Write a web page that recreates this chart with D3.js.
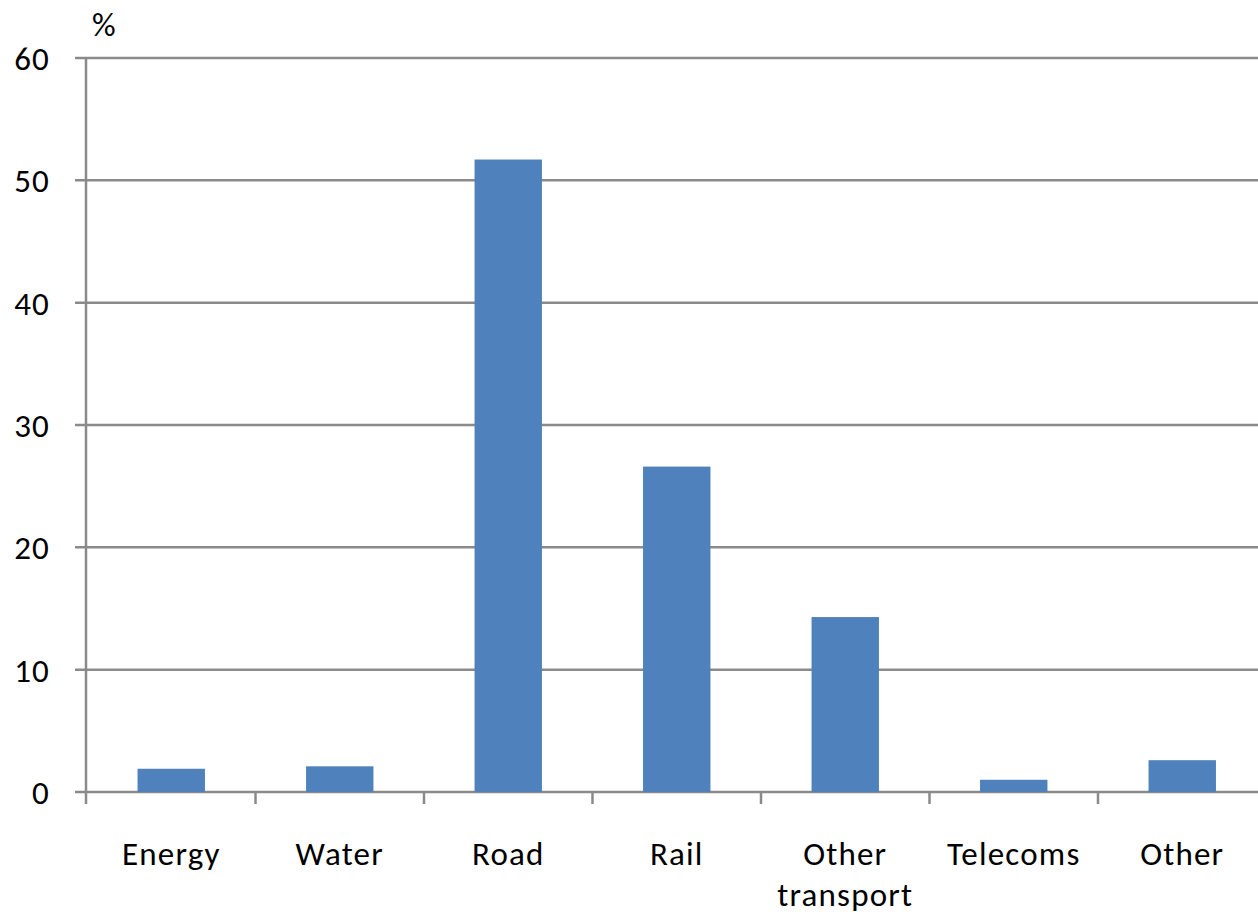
<!DOCTYPE html>
<html>
<head>
<meta charset="utf-8">
<script src="https://cdn.jsdelivr.net/npm/d3@7"></script>
<style>
  body { margin: 0; background: #fff; }
  text { font-family: Carlito, Lato, "Open Sans", sans-serif; fill: #000; letter-spacing: 1.2px; }
</style>
</head>
<body>
<script>
// share of infrastructure spending by sector
var categories = ["Energy", "Water", "Road", "Rail", "Other transport", "Telecoms", "Other"];
var values = [1.9, 2.1, 51.7, 26.6, 14.3, 1.0, 2.6];
var yTicks = [0, 10, 20, 30, 40, 50, 60];

var W = 1258, H = 917;
var margin = { top: 58, left: 87, bottom: 125 };
var plotRight = 1266.5; // plot runs slightly past the window edge

var svg = d3.select("body").append("svg")
    .attr("width", W)
    .attr("height", H);

var x = d3.scaleBand()
    .domain(categories)
    .range([margin.left, plotRight])
    .padding(0);

var y = d3.scaleLinear()
    .domain([0, 60])
    .range([H - margin.bottom, margin.top]);

var grey = "#8a8a8a";
var fs = "33px";

// horizontal gridlines (incl. tick stubs left of the axis)
svg.append("g").selectAll("line")
    .data(yTicks)
    .enter()
    .append("line")
    .attr("x1", margin.left - 12)
    .attr("x2", W)
    .attr("y1", function(d) { return y(d); })
    .attr("y2", function(d) { return y(d); })
    .style("stroke", grey)
    .style("stroke-width", 2.5);

// y tick labels
svg.append("g").selectAll("text")
    .data(yTicks)
    .enter()
    .append("text")
    .attr("x", 50)
    .attr("y", function(d) { return y(d); })
    .attr("dy", "0.36em")
    .attr("text-anchor", "end")
    .style("font-size", fs)
    .text(function(d) { return d; });

svg.append("text")
    .attr("x", 92)
    .attr("y", 36)
    .style("font-size", fs)
    .text("%");

// bars
svg.append("g").selectAll("rect")
    .data(values)
    .enter()
    .append("rect")
    .attr("x", function(d, i) { return x(categories[i]) + x.bandwidth() * 0.3; })
    .attr("width", x.bandwidth() * 0.4)
    .attr("y", function(d) { return y(d); })
    .attr("height", function(d) { return y(0) - y(d); })
    .style("fill", "#4f81bd");

// y axis line
svg.append("line")
    .attr("x1", margin.left - 1)
    .attr("x2", margin.left - 1)
    .attr("y1", y(60))
    .attr("y2", y(0) + 12)
    .style("stroke", grey)
    .style("stroke-width", 2.5);

// category boundary ticks
svg.append("g").selectAll("line")
    .data(categories.slice(1))
    .enter()
    .append("line")
    .attr("x1", function(d) { return x(d); })
    .attr("x2", function(d) { return x(d); })
    .attr("y1", y(0))
    .attr("y2", y(0) + 12)
    .style("stroke", grey)
    .style("stroke-width", 2.5);

// category labels, wrapped on two lines where needed
var lab = svg.append("g").selectAll("text")
    .data(categories)
    .enter()
    .append("text")
    .attr("text-anchor", "middle")
    .attr("y", 865)
    .style("font-size", fs);

lab.each(function(d) {
    var t = d3.select(this);
    var cx = x(d) + x.bandwidth() / 2;
    var words = d === "Other transport" ? ["Other", "transport"] : [d];
    words.forEach(function(w, i) {
        t.append("tspan")
            .attr("x", cx)
            .attr("dy", i === 0 ? 0 : 41)
            .text(w);
    });
});
</script>
</body>
</html>
